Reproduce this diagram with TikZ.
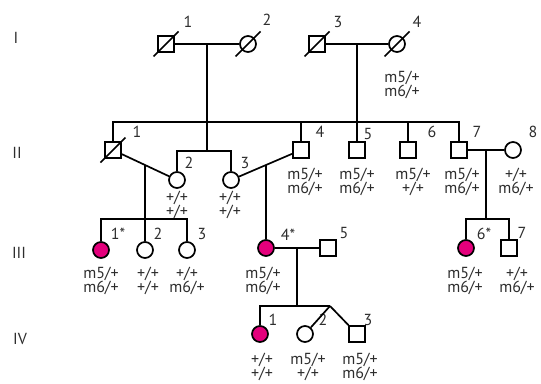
\documentclass[tikz,border=0pt]{standalone}
\usepackage{fontspec}
\setmainfont{PT Sans}
\usetikzlibrary{calc}

\definecolor{affect}{RGB}{228,0,124}
\definecolor{txt}{RGB}{45,45,45}

\tikzset{
  male/.style={draw, rectangle, minimum size=16pt, inner sep=0pt},
  female/.style={draw, circle, minimum size=16pt, inner sep=0pt},
  affected/.style={fill=affect},
  num/.style={text=txt, font=\fontsize{16}{16}\selectfont, inner sep=0pt},
  geno/.style={text=txt, font=\fontsize{16}{14.5}\selectfont, align=center, inner sep=0pt},
  gen/.style={text=txt, font=\fontsize{16}{16}\selectfont, inner sep=0pt}
}

% slash through a deceased individual
\newcommand{\deceased}[1]{\draw ([shift={(-12.5pt,-12.5pt)}]#1.center) -- ([shift={(12.5pt,12.5pt)}]#1.center);}

\begin{document}
\begin{tikzpicture}[x=1pt, y=-1pt, line width=1.7pt]
        \useasboundingbox (0,0) rectangle (541,383);

        % Generation numbers
        \node[gen] (gI) at (16,38) {I};
        \node[gen] (gII) at (17,153) {II};
        \node[gen] (gIII) at (19,253) {III};
        \node[gen] (gIV) at (20,339) {IV};

        % Rows of the sibship bars
        \coordinate (bar-II) at (0,122);
        \coordinate (bar-tw) at (0,151);
        \coordinate (bar-III) at (0,219);
        \coordinate (bar-IV) at (0,306);

        % Generation I
        \node[male] (I1) at (166,44) {};
        \node[female] (I2) at (248,44) {};
        \node[male] (I3) at (317,44) {};
        \node[female] (I4) at (397,44) {};
        \node[num] (n-I1) at (188,22) {1};
        \node[num] (n-I2) at (267,20) {2};
        \node[num] (n-I3) at (338,22) {3};
        \node[num] (n-I4) at (417,22) {4};
        \node[geno] (g-I4) at (402,85) {m5/+\\m6/+};
        \deceased{I1}
        \deceased{I2}
        \deceased{I3}
        \deceased{I4}

        \draw (I1) -- (I2);
        \draw (I3) -- (I4);
        \coordinate (c-I12) at ($(I1)!0.5!(I2)$);
        \coordinate (c-I34) at ($(I3)!0.5!(I4)$);

        % Generation II
        \node[male] (II1) at (113,150) {};
        \node[female] (II2) at (177,180) {};
        \node[female] (II3) at (231,180) {};
        \node[male] (II4) at (301,150) {};
        \node[male] (II5) at (357,150) {};
        \node[male] (II6) at (408,150) {};
        \node[male] (II7) at (459,150) {};
        \node[female] (II8) at (513,150) {};
        \deceased{II1}
        \node[num] (n-II1) at (137,132) {1};
        \node[num] (n-II2) at (189,163) {2};
        \node[num] (n-II3) at (245,163) {3};
        \node[num] (n-II4) at (320,132) {4};
        \node[num] (n-II5) at (368,134) {5};
        \node[num] (n-II6) at (432,132) {6};
        \node[num] (n-II7) at (477,132) {7};
        \node[num] (n-II8) at (533,132) {8};
        \node[geno] (g-II2) at (177,205) {+/+\\+/+};
        \node[geno] (g-II3) at (230,205) {+/+\\+/+};
        \node[geno] (g-II4) at (305,182) {m5/+\\m6/+};
        \node[geno] (g-II5) at (357,182) {m5/+\\m6/+};
        \node[geno] (g-II6) at (413,182) {m5/+\\+/+};
        \node[geno] (g-II7) at (462,182) {m5/+\\m6/+};
        \node[geno] (g-II8) at (516,182) {+/+\\m6/+};

        % Sibship of I-1 and I-2
        \draw (II1) -- (II1 |- bar-II) -- (II7 |- bar-II) -- (II7);
        \draw (c-I12) -- (c-I12 |- bar-tw);
        \draw (II2) -- (II2 |- bar-tw) -- (II3 |- bar-tw) -- (II3);
        \foreach \k in {II4,II6}
          \draw (\k) -- (\k |- bar-II);
        \draw (c-I34) -- (II5);

        % Couples in generation II
        \draw (II1) -- (II2);
        \draw (II3) -- (II4);
        \draw (II7) -- (II8);
        \coordinate (c-II12) at ($(II1)!0.5!(II2)$);
        \coordinate (c-II34) at ($(II3)!0.5!(II4)$);
        \coordinate (c-II78) at ($(II7)!0.5!(II8)$);

        % Generation III
        \node[female, affected] (III1) at (101,250) {};
        \node[female] (III2) at (145,250) {};
        \node[female] (III3) at (187,250) {};
        \node[female, affected] (III4) at (266,248) {};
        \node[male] (III5) at (328,248) {};
        \node[female, affected] (III6) at (466,248) {};
        \node[male] (III7) at (509,248) {};
        \node[num] (n-III1) at (118,234) {1*};
        \node[num] (n-III2) at (158,234) {2};
        \node[num] (n-III3) at (202,234) {3};
        \node[num] (n-III4) at (288,235) {4*};
        \node[num] (n-III5) at (344,233) {5};
        \node[num] (n-III6) at (484,234) {6*};
        \node[num] (n-III7) at (522,233) {7};
        \node[geno] (g-III1) at (101,281) {m5/+\\m6/+};
        \node[geno] (g-III2) at (148,281) {+/+\\+/+};
        \node[geno] (g-III3) at (187,281) {+/+\\m6/+};
        \node[geno] (g-III4) at (263,281) {m5/+\\m6/+};
        \node[geno] (g-III6) at (465,281) {m5/+\\m6/+};
        \node[geno] (g-III7) at (517,281) {+/+\\m6/+};

        \draw (c-II12) -- (III2);
        \draw (III1) -- (III1 |- bar-III) -- (III3 |- bar-III) -- (III3);
        \draw (c-II34) -- (III4);
        \draw (c-II78) -- (c-II78 |- bar-III);
        \draw (III6) -- (III6 |- bar-III) -- (III7 |- bar-III) -- (III7);

        \draw (III4) -- (III5);
        \coordinate (c-III45) at ($(III4)!0.5!(III5)$);

        % Generation IV
        \node[female, affected] (IV1) at (260,334) {};
        \node[female] (IV2) at (305,334) {};
        \node[male] (IV3) at (357,334) {};
        \node[num] (n-IV1) at (273,320) {1};
        \node[num] (n-IV2) at (323,320) {2};
        \node[num] (n-IV3) at (368,320) {3};
        \node[geno] (g-IV1) at (262,367) {+/+\\+/+};
        \node[geno] (g-IV2) at (308,367) {m5/+\\+/+};
        \node[geno] (g-IV3) at (360,367) {m5/+\\m6/+};

        \coordinate (tw-IV) at (330,306);
        \draw (c-III45) -- (c-III45 |- bar-IV);
        \draw (IV1) -- (IV1 |- bar-IV) -- (tw-IV);
        \draw (tw-IV) -- (IV2);
        \draw (tw-IV) -- (IV3);

        \end{tikzpicture}
\end{document}
